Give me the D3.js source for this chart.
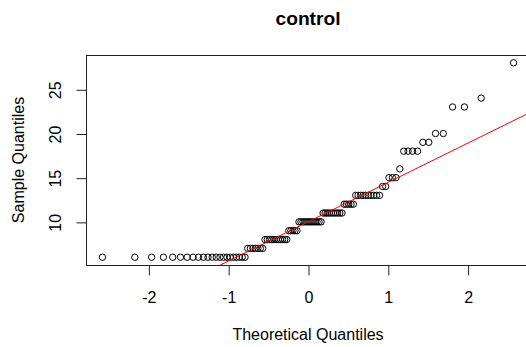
<!DOCTYPE html>
<html lang="en">
<head>
    <meta charset="UTF-8">
    <title>control</title>
    <script src="https://d3js.org/d3.v7.min.js"></script>
    <style>
        body { margin: 0; background: white; }
        text { font-family: "Liberation Sans", Arial, sans-serif; fill: #000; }
    </style>
</head>
<body>
    <svg id="graph" width="526" height="347"></svg>
    <script>
        // sorted sample values (n = 100)
        const sampleValues = [
            6, 6, 6, 6, 6, 6, 6, 6, 6, 6, 6, 6, 6, 6, 6, 6, 6, 6, 6, 6, 6, 6,
            7, 7, 7, 7, 7, 7, 7,
            8, 8, 8, 8, 8, 8, 8, 8, 8, 8, 8,
            9, 9, 9, 9, 9,
            10, 10, 10, 10, 10, 10, 10, 10, 10, 10, 10, 10,
            11, 11, 11, 11, 11, 11, 11, 11, 11, 11,
            12, 12, 12, 12, 12,
            13, 13, 13, 13, 13, 13, 13, 13, 13, 13,
            14, 14,
            15, 15, 15,
            16,
            18, 18, 18, 18,
            19, 19,
            20, 20,
            23, 23,
            24,
            28
        ];
        const xTicks = [-2, -1, 0, 1, 2];
        const yTicks = [10, 15, 20, 25];
        const title = "control";
        const xLabel = "Theoretical Quantiles";
        const yLabel = "Sample Quantiles";

        // inverse normal cdf (Acklam)
        function qnorm(p) {
            const a = [-39.69683028665376, 220.9460984245205, -275.9285104469687, 138.3577518672690, -30.66479806614716, 2.506628277459239];
            const b = [-54.47609879822406, 161.5858368580409, -155.6989798598866, 66.80131188771972, -13.28068155288572];
            const c = [-0.007784894002430293, -0.3223964580411365, -2.400758277161838, -2.549732539343734, 4.374664141464968, 2.938163982698783];
            const d = [0.007784695709041462, 0.3224671290700398, 2.445134137142996, 3.754408661907416];
            const pl = 0.02425;
            let q, r;
            if (p < pl) {
                q = Math.sqrt(-2 * Math.log(p));
                return (((((c[0] * q + c[1]) * q + c[2]) * q + c[3]) * q + c[4]) * q + c[5]) /
                    ((((d[0] * q + d[1]) * q + d[2]) * q + d[3]) * q + 1);
            } else if (p <= 1 - pl) {
                q = p - 0.5; r = q * q;
                return (((((a[0] * r + a[1]) * r + a[2]) * r + a[3]) * r + a[4]) * r + a[5]) * q /
                    (((((b[0] * r + b[1]) * r + b[2]) * r + b[3]) * r + b[4]) * r + 1);
            } else {
                q = Math.sqrt(-2 * Math.log(1 - p));
                return -(((((c[0] * q + c[1]) * q + c[2]) * q + c[3]) * q + c[4]) * q + c[5]) /
                    ((((d[0] * q + d[1]) * q + d[2]) * q + d[3]) * q + 1);
            }
        }

        const n = sampleValues.length;
        const points = sampleValues.map((v, i) => ({ x: qnorm((i + 0.5) / n), y: v }));

        // qqline through the quartiles
        const q1 = d3.quantile(sampleValues, 0.25);
        const q3 = d3.quantile(sampleValues, 0.75);
        const slope = (q3 - q1) / (qnorm(0.75) - qnorm(0.25));
        const intercept = q1 - slope * qnorm(0.25);

        const svg = d3.select("#graph");
        const plot = { left: 86, right: 530, top: 55, bottom: 265 };

        const pad = ext => { const r = ext[1] - ext[0]; return [ext[0] - 0.04 * r, ext[1] + 0.04 * r]; };
        const x = d3.scaleLinear().domain(pad(d3.extent(points, d => d.x))).range([plot.left, plot.right]);
        const y = d3.scaleLinear().domain(pad(d3.extent(points, d => d.y))).range([plot.bottom, plot.top]);

        svg.append("defs").append("clipPath").attr("id", "clip")
            .append("rect")
            .attr("x", plot.left).attr("y", plot.top)
            .attr("width", plot.right - plot.left).attr("height", plot.bottom - plot.top);

        // points
        svg.append("g").selectAll("circle")
            .data(points)
            .join("circle")
            .attr("cx", d => x(d.x))
            .attr("cy", d => y(d.y))
            .attr("r", 3.2)
            .attr("fill", "none")
            .attr("stroke", "#000")
            .attr("stroke-width", 1);

        // reference line
        const xd = x.domain();
        svg.append("line")
            .attr("clip-path", "url(#clip)")
            .attr("x1", x(xd[0])).attr("y1", y(intercept + slope * xd[0]))
            .attr("x2", x(xd[1])).attr("y2", y(intercept + slope * xd[1]))
            .attr("stroke", "red")
            .attr("stroke-width", 1);

        // box
        svg.append("rect")
            .attr("x", plot.left + 0.5).attr("y", plot.top + 0.5)
            .attr("width", plot.right - plot.left).attr("height", plot.bottom - plot.top)
            .attr("fill", "none").attr("stroke", "#222").attr("stroke-width", 1);

        // x axis
        const xAxis = svg.append("g").attr("transform", `translate(0.5,${plot.bottom + 0.5})`)
            .call(d3.axisBottom(x).tickValues(xTicks).tickSize(10).tickPadding(16).tickFormat(d => d < 0 ? "-" + Math.abs(d) : d));
        xAxis.select(".domain").remove();
        xAxis.selectAll("line").attr("stroke", "#222");
        xAxis.selectAll("text").attr("font-size", 16).attr("fill", "#000");

        // y axis
        const yAxis = svg.append("g").attr("transform", `translate(${plot.left + 0.5},0.5)`)
            .call(d3.axisLeft(y).tickValues(yTicks).tickSize(10).tickFormat(d => d));
        yAxis.select(".domain").remove();
        yAxis.selectAll("line").attr("stroke", "#222");
        yAxis.selectAll("text")
            .attr("font-size", 16).attr("fill", "#000")
            .attr("x", null).attr("dy", null)
            .attr("text-anchor", "middle")
            .attr("transform", "translate(-26,0) rotate(-90)");

        // labels
        svg.append("text")
            .attr("x", (plot.left + plot.right) / 2).attr("y", 25)
            .attr("text-anchor", "middle")
            .attr("font-size", 19.2).attr("font-weight", "bold")
            .text(title);
        svg.append("text")
            .attr("x", (plot.left + plot.right) / 2).attr("y", 340)
            .attr("text-anchor", "middle")
            .attr("font-size", 16)
            .text(xLabel);
        svg.append("text")
            .attr("transform", `translate(24,${(plot.top + plot.bottom) / 2}) rotate(-90)`)
            .attr("text-anchor", "middle")
            .attr("font-size", 16)
            .text(yLabel);
    </script>
</body>
</html>
